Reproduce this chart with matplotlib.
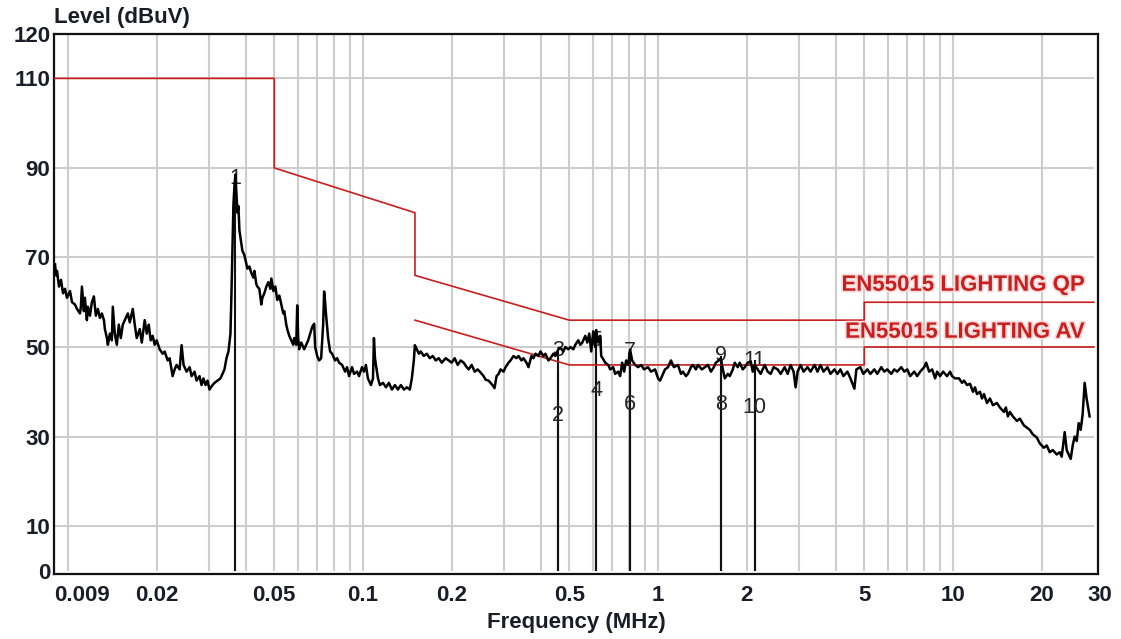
#!/usr/bin/env python3

"""
Conducted emission scan (mains port) against the EN55015 lighting limits.
Writes out.png.
"""

import matplotlib
matplotlib.use('Agg')
import matplotlib.pyplot as plt
import numpy as np
from matplotlib import patheffects
from matplotlib.transforms import ScaledTranslation


# measured trace, frequency in kHz and level in dBuV
freq_khz = [
    9.04, 9.11, 9.18, 9.32, 9.47, 9.62, 9.77, 9.92, 10.16, 10.32,
    10.56, 10.73, 10.98, 11.06, 11.15, 11.32, 11.41, 11.59, 11.68, 11.87,
    12.05, 12.24, 12.43, 12.63, 12.83, 13.03, 13.24, 13.34, 13.55, 13.65,
    13.87, 14.08, 14.19, 14.41, 14.64, 14.87, 15.10, 15.34, 15.58, 15.95,
    16.20, 16.58, 16.84, 17.10, 17.51, 17.79, 18.20, 18.49, 18.78, 19.07,
    19.37, 19.67, 19.98, 20.45, 20.94, 21.27, 21.77, 22.11, 22.63, 22.99,
    23.34, 23.90, 24.27, 24.65, 25.23, 25.84, 26.24, 26.86, 27.28, 27.92,
    28.36, 28.80, 29.26, 29.72, 30.18, 30.90, 31.39, 32.12, 32.88, 33.40,
    33.92, 34.45, 34.99, 35.27, 35.54, 35.82, 36.10, 36.38, 36.67, 36.95,
    37.24, 37.53, 37.82, 38.12, 38.71, 39.01, 39.63, 40.25, 40.57, 41.20,
    41.85, 42.50, 42.84, 43.51, 43.85, 44.53, 45.23, 45.59, 46.30, 47.03,
    47.77, 48.52, 48.90, 49.67, 50.44, 51.23, 52.04, 52.85, 53.68, 54.10,
    54.94, 55.37, 56.24, 57.13, 58.02, 58.48, 59.39, 59.84, 60.30, 60.79,
    61.74, 63.20, 64.20, 65.20, 66.22, 67.26, 68.31, 68.84, 69.92, 71.01,
    72.13, 73.26, 73.83, 74.41, 74.99, 76.17, 77.36, 78.58, 80.44, 81.70,
    82.98, 84.95, 86.96, 88.32, 89.68, 91.80, 93.24, 95.44, 96.94, 99.23,
    100.8, 102.3, 103.9, 106.4, 108.1, 108.9, 109.8, 110.6, 112.4, 114.1,
    116.9, 119.6, 122.4, 125.3, 128.3, 131.3, 134.4, 137.6, 140.8, 144.1,
    146.4, 148.7, 149.9, 152.2, 154.6, 157.0, 160.7, 164.5, 168.4, 172.4,
    176.4, 180.6, 184.9, 190.7, 195.2, 199.8, 204.5, 209.4, 214.3, 219.4,
    224.6, 228.1, 233.5, 239.1, 244.7, 250.4, 256.4, 260.3, 266.4, 270.6,
    274.8, 279.1, 283.6, 288.1, 292.6, 299.5, 304.2, 311.4, 316.2, 323.7,
    331.4, 336.5, 344.5, 349.9, 358.2, 363.8, 372.3, 378.2, 384.2, 393.3,
    399.4, 408.9, 415.2, 425.0, 431.7, 441.9, 448.7, 459.4, 466.6, 477.6,
    485.1, 496.6, 504.4, 516.3, 524.4, 536.7, 545.1, 553.7, 566.7, 575.6,
    584.6, 593.8, 603.1, 612.6, 617.3, 627.1, 636.9, 641.9, 651.9, 662.2,
    677.8, 688.4, 704.7, 715.7, 732.7, 744.1, 755.8, 767.7, 779.7, 792.0,
    804.3, 817.0, 836.2, 856.0, 876.2, 896.9, 925.1, 946.9, 977.0, 1000,
    1016, 1040, 1056, 1081, 1106, 1132, 1168, 1196, 1215, 1243,
    1263, 1293, 1313, 1344, 1365, 1408, 1442, 1476, 1511, 1546,
    1570, 1607, 1633, 1658, 1684, 1724, 1751, 1792, 1820, 1863,
    1892, 1937, 1968, 2014, 2062, 2094, 2127, 2177, 2228, 2299,
    2353, 2409, 2466, 2544, 2604, 2687, 2750, 2814, 2881, 2926,
    2972, 3042, 3114, 3212, 3288, 3392, 3472, 3554, 3638, 3753,
    3841, 3963, 4056, 4152, 4250, 4385, 4488, 4630, 4702, 4851,
    4965, 5123, 5244, 5410, 5536, 5712, 5846, 5984, 6174, 6319,
    6469, 6674, 6832, 6992, 7158, 7385, 7559, 7737, 7982, 8107,
    8298, 8494, 8694, 8830, 9038, 9252, 9544, 9769, 9922, 10157,
    10478, 10725, 10895, 11152, 11414, 11684, 11868, 12054, 12339, 12533,
    12730, 13030, 13335, 13650, 14080, 14412, 14870, 15100, 15340, 15580,
    15950, 16460, 16850, 17380, 17790, 18200, 18630, 19220, 19670, 20300,
    20780, 21270, 21770, 22460, 22990, 23350, 23900, 24270, 24660, 25050,
    25440, 25840, 26250, 26660, 27080, 27500, 27930, 28360, 29030,
]
level_dbuv = [
    68.5, 66, 67, 63.5, 65, 62, 63, 61, 62.5, 60,
    59.5, 58.5, 57.5, 59, 63.5, 58, 61, 56, 59, 57,
    60, 61.3, 57, 58.5, 56.5, 57.5, 56, 54, 52, 50.5,
    53, 51.5, 59, 53, 50.5, 55, 52, 55, 56, 57.5,
    55.5, 58.5, 55, 52, 54, 51, 56, 53, 55, 51.5,
    52.5, 50.5, 51.5, 49.5, 48.5, 49, 47, 47.5, 43.5, 45,
    46, 45, 50.4, 46, 44.5, 45.5, 43.5, 44.5, 42.5, 43.5,
    41.5, 43, 41.5, 42.5, 40.5, 41.5, 42, 42.5, 43, 44,
    45, 47.5, 49, 51, 53, 62, 72, 82, 86, 88.5,
    84, 80, 81.5, 76, 73, 71.5, 70.5, 68.5, 67.5, 68,
    66.5, 65.5, 67, 64, 63.5, 63, 59.5, 61, 62, 63.5,
    64.5, 63, 65.3, 62.5, 63.5, 60.5, 61.5, 59.5, 57.5, 58,
    55, 54, 52.5, 51.5, 50.5, 52, 50.5, 59.3, 52, 49.5,
    51, 49.5, 50.5, 51.5, 53, 54.5, 55.2, 50, 48, 47,
    47.5, 55, 62.4, 60, 57, 52, 49, 48.5, 47, 47.5,
    46.5, 46, 44.5, 45.5, 43.5, 45.5, 44, 44.5, 43.5, 45.5,
    44.5, 46, 43, 41.5, 43, 52, 47.5, 46, 43, 41.5,
    42, 41, 42, 40.5, 41.5, 40.5, 41.5, 40.5, 41, 40.5,
    43, 47, 50.4, 49.5, 48.5, 49, 48, 48.5, 47.5, 48,
    47, 47.5, 46.5, 47.5, 47, 46.5, 47.5, 46, 47, 46.5,
    45.5, 45, 46, 44.5, 45, 44.3, 43.5, 42.7, 42.5, 42,
    41.5, 40.8, 43.5, 44, 45, 44.5, 45.5, 46.5, 47, 48,
    47.5, 48, 47, 47.5, 46.5, 45.5, 48, 47.5, 48.5, 48,
    49, 48, 48.5, 47, 47.5, 48.5, 48, 49.5, 49.8, 49,
    50, 49.5, 50, 49.5, 50.5, 51.5, 50.5, 51, 52.5, 51,
    53, 49, 53.5, 50, 53.8, 51, 52.5, 48, 47.3, 46.5,
    46, 45, 45.5, 44, 44.5, 43.5, 46.5, 44.5, 47, 46,
    49.4, 47, 46, 45.5, 46, 45, 45.5, 44.5, 45, 43,
    42.5, 44, 45, 45.5, 47, 45.5, 46, 44, 44.5, 43.5,
    44, 45.5, 46, 45, 46, 45, 45.5, 46, 44.5, 45.5,
    46.5, 47, 47.5, 45, 43, 44, 43.5, 45, 46.5, 45.5,
    46.5, 45, 45.5, 46.5, 46.8, 44.5, 46, 45, 44, 46,
    44.5, 44, 45.5, 45, 44, 45.5, 44, 46, 44.5, 41,
    44.5, 46, 44.5, 45.5, 44.5, 46, 44.5, 46, 44.5, 45.5,
    44, 45, 44, 45, 43.5, 44.5, 43, 40.7, 45, 45.5,
    44, 45, 44, 45, 44, 45.5, 44.5, 45, 44, 45,
    44.5, 45.5, 44.5, 45, 43.5, 44.5, 43.5, 44.5, 45.5, 46.5,
    44.5, 45, 43, 44.5, 43.5, 44.5, 43.5, 44.5, 43.5, 43,
    43, 42, 42.5, 41.5, 41.8, 40, 41, 39.5, 40, 38.5,
    39.5, 37.5, 38.5, 37, 37.5, 36.5, 35.5, 36.5, 34.5, 35.5,
    34.5, 33.5, 34, 32.5, 32, 31.5, 30.5, 29.8, 28.5, 27.5,
    28, 26.5, 27, 26, 26.5, 25.5, 31, 27, 26, 25,
    28, 30, 29, 33, 31.5, 35, 42, 38.5, 34.5,
]

# EN55015 limit lines, frequency in MHz
qp_limit_mhz = [0.009, 0.05, 0.05, 0.15, 0.15, 0.5, 5, 5, 30]
qp_limit_db = [110, 110, 90, 80, 66, 56, 56, 60, 60]
av_limit_mhz = [0.15, 0.5, 5, 5, 30]
av_limit_db = [56, 46, 46, 50, 50]

# peak list: odd numbers are QP readings, even numbers AV readings
marker_ids = [1, 2, 3, 4, 5, 6, 7, 8, 9, 10, 11]
marker_khz = [36.95, 459.4, 459.4, 617.3, 617.3, 804.3, 804.3,
              1633, 1633, 2127, 2127]
marker_db = [88.5, 44.8, 49.3, 49.4, 52.0, 43.3, 48.9, 44.8, 48.0, 44.8, 47.1]
marker_label_db = [87.6, 34.6, 49.3, 40.2, 51.5, 37.1, 48.9, 37.1, 48.0,
                   36.6, 47.1]

tick_mhz = [0.009, 0.02, 0.05, 0.1, 0.2, 0.5, 1, 2, 5, 10, 20, 30]
tick_text = ['0.009', '0.02', '0.05', '0.1', '0.2', '0.5', '1', '2', '5',
             '10', '20', '30']
level_ticks = [0, 10, 30, 50, 70, 90, 110, 120]

TEXT = '#1c1c28'
RED = '#c81e1e'


def draw_grid(ax):
    """ light grey grid, kept inside 0..120 dBuV and 9 kHz..30 MHz """
    grid_mhz = [m * d for d in (0.01, 0.1, 1) for m in range(1, 10)] + [10, 20]
    ax.vlines(grid_mhz, 0, 120, color='#cdcdcd', lw=1.5, zorder=1)
    ax.hlines([10, 30, 50, 70, 90, 110], 0.009, 30, color='#cdcdcd', lw=1.5,
              zorder=1)


def draw_limits(ax):
    """ QP and AV limit lines with their names """
    ax.plot(qp_limit_mhz, qp_limit_db, color=RED, lw=1.2, zorder=2.8)
    ax.plot(av_limit_mhz, av_limit_db, color=RED, lw=1.2, zorder=2.8)
    halo = [patheffects.withStroke(linewidth=2.5, foreground='#f8dada')]
    for name, y in (('EN55015 LIGHTING QP', 63.8), ('EN55015 LIGHTING AV', 53.3)):
        ax.text(28.0, y, name, color=RED, fontsize=16, fontweight='bold',
                ha='right', va='center', path_effects=halo, zorder=5)


def draw_markers(ax):
    """ vertical marker lines from 0 dBuV up to each reading, with numbers """
    f = np.array(marker_khz) / 1000
    ax.vlines(f, 0, marker_db, color='#111111', lw=1.5, zorder=2.5)
    for i, x, y in zip(marker_ids, f, marker_label_db):
        ax.text(x, y, str(i), fontsize=15.5, color='#262626',
                ha='center', va='center', zorder=2.6)


def main():
    plt.rcParams['font.family'] = ['Liberation Sans', 'DejaVu Sans']

    fig = plt.figure(figsize=(11.21, 6.39), dpi=100)
    ax = fig.add_axes([0.0486, 0.1017, 0.9309, 0.8457])
    ax.set_xscale('log')
    ax.set_xlim(0.009, 31)
    ax.set_ylim(-0.7, 120)

    draw_grid(ax)
    draw_limits(ax)
    draw_markers(ax)
    ax.plot(np.array(freq_khz) / 1000, level_dbuv, color='black', lw=1.8,
            zorder=3)

    # axes frame and ticks
    for side in ax.spines.values():
        side.set_linewidth(1.6)
        side.set_color('#111111')
    ax.set_xticks(tick_mhz)
    ax.set_xticklabels(tick_text)
    ax.xaxis.set_minor_locator(matplotlib.ticker.NullLocator())
    ax.set_yticks(level_ticks)
    ax.tick_params(length=0, labelsize=16, labelcolor=TEXT)
    ax.tick_params(axis='x', pad=8)
    ax.tick_params(axis='y', pad=3)
    for lab in ax.get_xticklabels() + ax.get_yticklabels():
        lab.set_fontweight('bold')
    labels = ax.get_xticklabels()
    labels[0].set_horizontalalignment('left')
    labels[-1].set_transform(labels[-1].get_transform()
                             + ScaledTranslation(0.06, 0, fig.dpi_scale_trans))

    ax.text(0, 1.029, 'Level (dBuV)', transform=ax.transAxes, fontsize=16,
            fontweight='bold', color=TEXT, ha='left', va='center')
    ax.text(0.5, -0.0888, 'Frequency (MHz)', transform=ax.transAxes,
            fontsize=16, fontweight='bold', color=TEXT, ha='center',
            va='center')

    fig.savefig('out.png', dpi=100)


if __name__ == "__main__":
    main()
